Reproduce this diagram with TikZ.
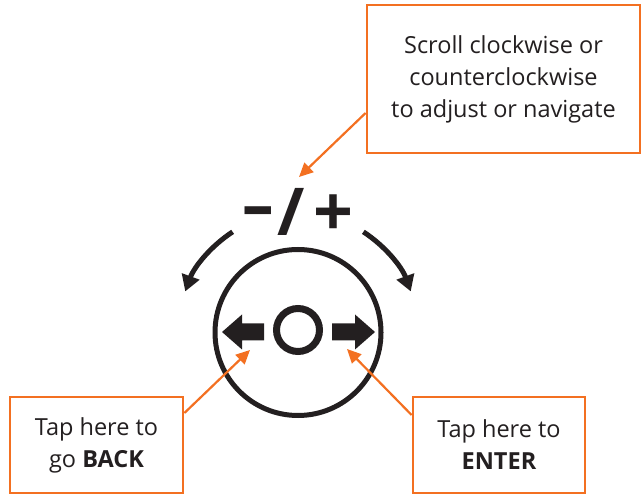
\documentclass[tikz,border=0pt]{standalone}
\usepackage{fontspec}
\setmainfont{Open Sans}
\usetikzlibrary{arrows.meta}
\definecolor{org}{HTML}{F37021}
\definecolor{ink}{HTML}{231F20}
\tikzset{
  callout/.style={draw=org, line width=2.8pt, fill=white, align=center, text=ink,
    font=\fontsize{23.5}{32}\selectfont, inner sep=0pt},
  pointer/.style={draw=org, line width=2.2pt, -{Triangle[length=14pt,width=13pt]}},
  turn/.style={draw=ink, line width=5pt, -{Triangle[length=16pt,width=18pt]}},
  sign/.style={text=ink, inner sep=0pt},
  bigarrow/.style={fill=ink, draw=none}
}
\begin{document}
\begin{tikzpicture}[x=1pt,y=1pt]
\useasboundingbox (0,0) rectangle (642,495);
% callout boxes
\node[callout, minimum width=273pt, minimum height=148pt] (top) at (503.5,416)
  {Scroll clockwise or\\counterclockwise\\to adjust or navigate};
\node[callout, minimum width=173pt, minimum height=96pt] (back) at (96.5,50)
  {Tap here to\\go \textbf{BACK}};
\node[callout, minimum width=172pt, minimum height=96pt] (enter) at (499,50)
  {Tap here to\\\textbf{ENTER}};
% dial
\node[draw=ink, line width=5pt, circle, minimum size=166pt, inner sep=0pt] (dial) at (298,162.5) {};
\node[draw=ink, line width=7pt, circle, minimum size=43pt, inner sep=0pt] (btn) at (298,165) {};
% back / enter arrows
\fill[bigarrow] (222,163) -- (242,180.5) -- (242,171.5) -- (264,171.5) -- (264,154.5) -- (242,154.5) -- (242,145.5) -- cycle;
\fill[bigarrow] (375,163) -- (355,180.5) -- (355,171.5) -- (332,171.5) -- (332,154.5) -- (355,154.5) -- (355,145.5) -- cycle;
\coordinate (backtip) at (250,145);
\coordinate (entertip) at (347,146);
% signs
\node[sign, font=\fontsize{70}{70}\selectfont\bfseries, xscale=0.9] (minus) at (258,277) {–};
\node[sign, font=\fontsize{66}{66}\selectfont\bfseries] (slash) at (291.5,283) {/};
\node[sign, font=\fontsize{70}{70}\selectfont\bfseries] (plus) at (333.5,279) {+};
\coordinate (scrolltip) at (299,318);
% rotation arrows
\draw[turn] (dial.center) ++(123:120) arc[start angle=123, end angle=160, radius=120];
\draw[turn] (dial.center) ++(57:120) arc[start angle=57, end angle=20, radius=120];
% pointers
\draw[pointer] (top.west |- 0,382) -- (scrolltip);
\draw[pointer] (back.east |- 0,82) -- (backtip);
\draw[pointer] (enter.west |- 0,80) -- (entertip);
\end{tikzpicture}
\end{document}
